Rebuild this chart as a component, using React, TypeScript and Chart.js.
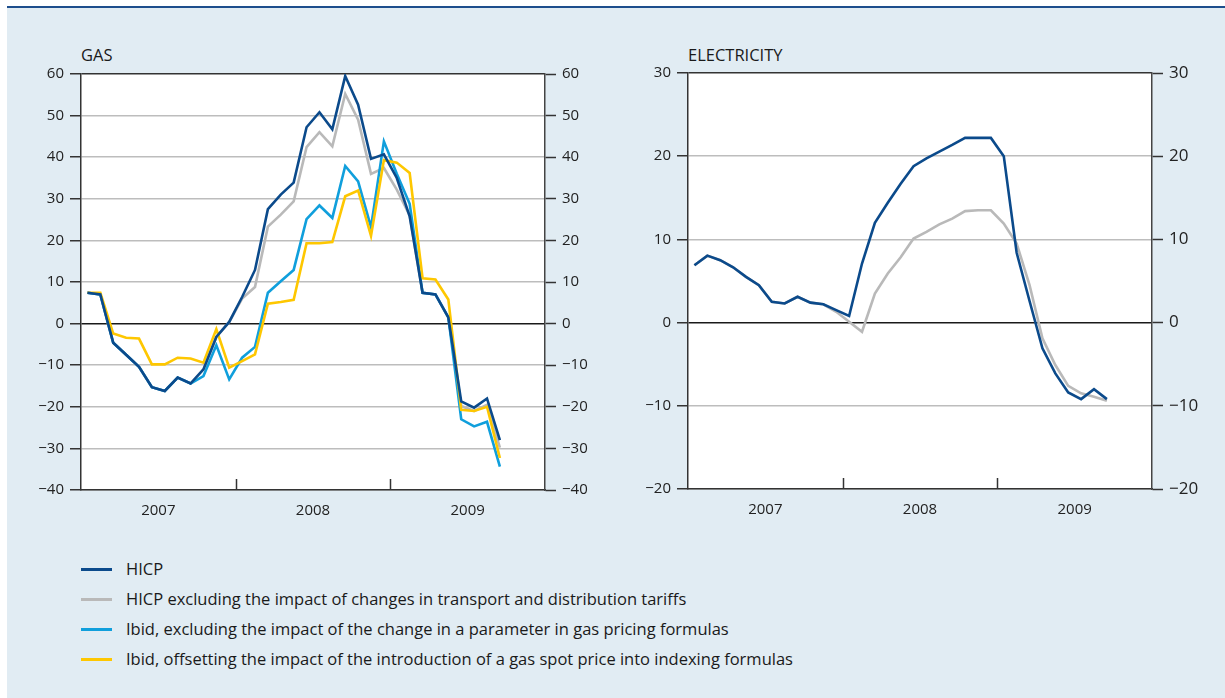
import React, { useEffect, useRef } from "react";
import { Chart, registerables } from "chart.js";

Chart.register(...registerables);

// ---------- DATA ----------
const years = ["2007", "2008", "2009"];
const months = [
  "2007-01", "2007-02", "2007-03", "2007-04", "2007-05", "2007-06", "2007-07", "2007-08", "2007-09", "2007-10", "2007-11", "2007-12",
  "2008-01", "2008-02", "2008-03", "2008-04", "2008-05", "2008-06", "2008-07", "2008-08", "2008-09", "2008-10", "2008-11", "2008-12",
  "2009-01", "2009-02", "2009-03", "2009-04", "2009-05", "2009-06", "2009-07", "2009-08", "2009-09",
];

const gasHicp = [7.4, 7.0, -4.6, -7.5, -10.4, -15.3, -16.2, -13.0, -14.4, -11.0, -3.2, 0.4, 6.4, 12.9, 27.5, 31.0, 33.9, 47.2, 50.8, 46.7, 59.5, 52.6, 39.6, 40.7, 35.0, 25.8, 7.4, 7.0, 1.5, -18.7, -20.2, -18.0, -28.0];
const gasExTariffs = [7.4, 7.0, -4.6, -7.5, -10.4, -15.3, -16.2, -13.0, -14.4, -11.0, -3.2, 0.4, 6.0, 8.8, 23.3, 26.2, 29.4, 42.4, 46.0, 42.6, 55.2, 49.0, 36.0, 37.4, 32.2, 26.0, 7.4, 7.0, 1.5, -19.8, -21.0, -19.5, -29.8];
const gasExParameter = [7.4, 7.0, -4.6, -7.5, -10.4, -15.3, -16.2, -13.0, -14.4, -12.6, -5.2, -13.4, -8.2, -5.6, 7.4, 10.2, 12.9, 25.1, 28.4, 25.4, 37.9, 34.2, 23.2, 43.8, 36.0, 28.8, 7.4, 7.0, 1.5, -23.0, -24.7, -23.6, -34.4];
const gasSpotOffset = [7.4, 7.4, -2.4, -3.4, -3.6, -9.8, -9.8, -8.2, -8.4, -9.4, -1.3, -10.6, -9.0, -7.4, 4.8, 5.2, 5.7, 19.3, 19.3, 19.6, 30.6, 32.0, 21.1, 39.3, 38.7, 36.2, 10.9, 10.6, 5.8, -20.7, -21.0, -20.0, -32.3];

const elecHicp = [6.9, 8.05, 7.5, 6.65, 5.5, 4.5, 2.5, 2.3, 3.1, 2.4, 2.2, 1.5, 0.8, 7.1, 12.0, 14.4, 16.7, 18.8, 19.75, 20.55, 21.35, 22.2, 22.2, 22.2, 20.0, 8.4, 2.6, -3.1, -6.1, -8.4, -9.2, -8.0, -9.2];
const elecExTariffs = [6.9, 8.05, 7.5, 6.65, 5.5, 4.5, 2.5, 2.3, 3.1, 2.4, 2.2, 1.3, 0.1, -1.1, 3.5, 5.9, 7.85, 10.1, 10.9, 11.8, 12.5, 13.4, 13.5, 13.5, 11.9, 9.5, 4.5, -1.9, -5.1, -7.6, -8.5, -8.9, -9.4];

const legendLabels = [
  "HICP",
  "HICP excluding the impact of changes in transport and distribution tariffs",
  "Ibid, excluding the impact of the change in a parameter in gas pricing formulas",
  "Ibid, offsetting the impact of the introduction of a gas spot price into indexing formulas",
];
const COLORS = ["#0b4a8b", "#b9b9b9", "#109fdc", "#fec700"];

const FONT = "'Open Sans', 'Noto Sans', sans-serif";

// ---------- helpers ----------
const fmt = (v: number) => (v < 0 ? "\u2212" + Math.abs(v) : String(v));

const plotPlugin = {
  id: "plotDecor",
  beforeDraw(chart: any) {
    const { ctx, chartArea: a } = chart;
    ctx.save();
    ctx.fillStyle = "#ffffff";
    ctx.fillRect(a.left, a.top, a.right - a.left, a.bottom - a.top);
    ctx.restore();
  },
  afterDraw(chart: any) {
    const { ctx, chartArea: a } = chart;
    const xs = chart.scales.x;
    ctx.save();
    ctx.strokeStyle = "#333333";
    ctx.lineWidth = 1.5;
    years.slice(1).forEach((_, i) => {
      const px = Math.round(xs.getPixelForValue((i + 1) * 12)) + 0.5;
      ctx.beginPath();
      ctx.moveTo(px, a.bottom);
      ctx.lineTo(px, a.bottom - 11);
      ctx.stroke();
    });
    ctx.restore();
  },
};

type Series = { label: string; data: number[]; color: string };

function LineChart(props: {
  left: number; top: number; width: number; height: number;
  plot: { left: number; right: number; top: number; bottom: number };
  series: Series[]; yMin: number; yMax: number; yStep: number;
  rightFontSize: number;
}) {
  const ref = useRef<HTMLCanvasElement>(null);
  useEffect(() => {
    const { width, height, plot, series, yMin, yMax, yStep, rightFontSize } = props;
    const gridColor = (c: any) => {
      const v = c.tick && c.tick.value;
      if (v === 0) return "#1a1a1a";
      if (v === yMax) return "#333333";
      return "#bdbdbd";
    };
    const chart = new Chart(ref.current as HTMLCanvasElement, {
      type: "line",
      data: {
        datasets: series.map((s) => ({
          label: s.label,
          data: s.data.map((y, i) => ({ x: months.indexOf(months[i]) + 0.5, y })),
          borderColor: s.color,
          backgroundColor: s.color,
          borderWidth: 2.6,
          pointRadius: 0,
          tension: 0,
          fill: false,
        })),
      },
      options: {
        animation: false,
        responsive: false,
        devicePixelRatio: 1,
        layout: { padding: { top: plot.top, left: 0, right: 0, bottom: 0 } },
        plugins: { legend: { display: false }, tooltip: { enabled: false } },
        scales: {
          x: {
            type: "linear",
            min: 0,
            max: years.length * 12,
            afterBuildTicks: (s: any) => {
              s.ticks = years.map((_, i) => ({ value: i * 12 + 6 }));
            },
            ticks: {
              autoSkip: false,
              maxRotation: 0,
              padding: 12,
              color: "#222",
              font: { family: FONT, size: 15 },
              callback: (v: any) => years[(Number(v) - 6) / 12] ?? "",
            },
            grid: { display: false, drawTicks: false },
            border: { display: true, color: "#333333", width: 1.5 },
            afterFit: (s: any) => { s.height = height - plot.bottom; },
          },
          y: {
            type: "linear",
            position: "left",
            min: yMin,
            max: yMax,
            ticks: {
              stepSize: yStep,
              padding: 6,
              color: "#222",
              font: { family: FONT, size: 15 },
              callback: (v: any) => fmt(Number(v)),
            },
            grid: { color: gridColor, lineWidth: 1.5, tickLength: 11, tickColor: "#333333", tickWidth: 1.5 },
            border: { display: true, color: "#333333", width: 1.5 },
            afterFit: (s: any) => { s.width = plot.left; },
          },
          y2: {
            type: "linear",
            position: "right",
            min: yMin,
            max: yMax,
            ticks: {
              stepSize: yStep,
              padding: 6,
              color: "#222",
              font: { family: FONT, size: rightFontSize },
              callback: (v: any) => fmt(Number(v)),
            },
            grid: { drawOnChartArea: false, tickLength: 11, tickColor: "#333333", tickWidth: 1.5 },
            border: { display: true, color: "#444444", width: 1.5 },
            afterFit: (s: any) => { s.width = width - plot.right; },
          },
        },
      } as any,
      plugins: [plotPlugin],
    });
    return () => chart.destroy();
  }, []);
  return (
    <canvas
      ref={ref}
      width={props.width}
      height={props.height}
      style={{ position: "absolute", left: props.left, top: props.top, width: props.width, height: props.height }}
    />
  );
}

export default function App() {
  const titleStyle: React.CSSProperties = {
    position: "absolute",
    top: 44,
    fontFamily: FONT,
    fontSize: 16.5,
    lineHeight: "22px",
    color: "#1a1a1a",
  };
  return (
    <div style={{ position: "absolute", left: 0, top: 0, width: 1225, height: 698, background: "#ffffff", overflow: "hidden" }}>
      <div style={{ position: "absolute", left: 7, top: 6, right: 0, bottom: 0, background: "#e1ecf3", borderTop: "2px solid #1d4e8c" }} />
      <div style={{ ...titleStyle, left: 81 }}>GAS</div>
      <div style={{ ...titleStyle, left: 688 }}>ELECTRICITY</div>
      <LineChart
        left={0} top={0} width={610} height={530}
        plot={{ left: 81, right: 545, top: 74, bottom: 490 }}
        series={[
          { label: legendLabels[0], data: gasHicp, color: COLORS[0] },
          { label: legendLabels[3], data: gasSpotOffset, color: COLORS[3] },
          { label: legendLabels[2], data: gasExParameter, color: COLORS[2] },
          { label: legendLabels[1], data: gasExTariffs, color: COLORS[1] },
        ]}
        yMin={-40} yMax={60} yStep={10} rightFontSize={15}
      />
      <LineChart
        left={620} top={0} width={605} height={530}
        plot={{ left: 68, right: 532, top: 73, bottom: 489 }}
        series={[
          { label: legendLabels[0], data: elecHicp, color: COLORS[0] },
          { label: legendLabels[1], data: elecExTariffs, color: COLORS[1] },
        ]}
        yMin={-20} yMax={30} yStep={10} rightFontSize={17}
      />
      {legendLabels.map((lab, i) => (
        <div key={lab} style={{ position: "absolute", left: 81, top: 558 + i * 30, height: 22, display: "flex", alignItems: "center" }}>
          <div style={{ width: 31, height: 3, background: COLORS[i] }} />
          <div style={{ marginLeft: 14, fontFamily: FONT, fontSize: 16.5, color: "#1a1a1a", whiteSpace: "nowrap", lineHeight: "22px" }}>{lab}</div>
        </div>
      ))}
    </div>
  );
}
